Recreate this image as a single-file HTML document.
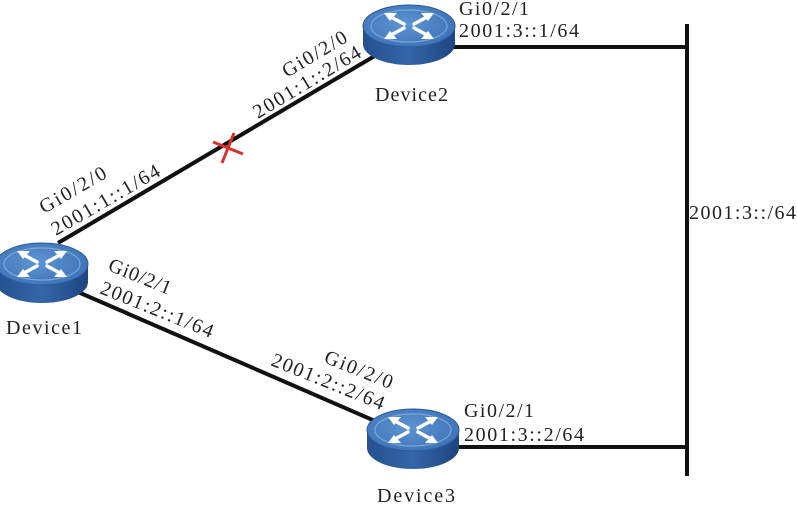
<!DOCTYPE html>
<html><head><meta charset="utf-8"><style>
html,body{margin:0;padding:0;background:#fff;}
svg{display:block;}
text{font-family:"Liberation Serif",serif;font-size:20px;fill:#222;}
</style></head><body>
<svg width="797" height="507" viewBox="0 0 797 507" xmlns="http://www.w3.org/2000/svg">
<defs>
<linearGradient id="side" x1="0" y1="0" x2="1" y2="0">
<stop offset="0" stop-color="#24508e"/><stop offset="0.5" stop-color="#3466a8"/><stop offset="1" stop-color="#1d4580"/>
</linearGradient>
<radialGradient id="top" cx="0.45" cy="0.45" r="0.65">
<stop offset="0" stop-color="#5f95d2"/><stop offset="1" stop-color="#3a70b4"/>
</radialGradient>
<g id="rt">
<path d="M-46,0 L-46,18 A46,21 0 0 0 46,18 L46,0 Z" fill="url(#side)"/>
<ellipse cx="0" cy="0" rx="46" ry="21" fill="url(#top)" stroke="#2a5a9a" stroke-width="1"/>
<ellipse cx="0" cy="0" rx="38" ry="16" fill="none" stroke="#8db8e6" stroke-width="1.2" opacity="0.7"/>
<g stroke="#fff" stroke-width="3.5" fill="none" stroke-linecap="round">
<line x1="-5" y1="-2" x2="-18" y2="-9"/><line x1="5" y1="-2" x2="18" y2="-9"/>
<line x1="-5" y1="2" x2="-18" y2="9"/><line x1="5" y1="2" x2="18" y2="9"/>
</g>
<g fill="#fff">
<polygon points="-25,-13 -12,-13 -19,-5"/><polygon points="25,-13 12,-13 19,-5"/>
<polygon points="-25,13 -12,13 -19,5"/><polygon points="25,13 12,13 19,5"/>
</g>
</g>
</defs>
<g stroke="#111" stroke-width="4" fill="none">
<line x1="58" y1="243" x2="378" y2="54"/>
<line x1="78" y1="292" x2="382" y2="424"/>
<line x1="450" y1="47" x2="687" y2="47"/>
<line x1="455" y1="447" x2="687" y2="447"/>
<line x1="687" y1="24" x2="687" y2="476"/>
</g>
<g stroke="#d8302a" stroke-width="3">
<line x1="213" y1="142" x2="243" y2="154"/>
<line x1="222" y1="163" x2="234" y2="133"/>
</g>
<use href="#rt" x="409" y="26"/>
<use href="#rt" x="42" y="264"/>
<use href="#rt" x="413" y="430"/>
<text x="375" y="101" textLength="73" lengthAdjust="spacing">Device2</text>
<text x="6" y="334" textLength="76" lengthAdjust="spacing">Device1</text>
<text x="377" y="502" textLength="78" lengthAdjust="spacing">Device3</text>
<text x="459" y="15" textLength="70" lengthAdjust="spacing">Gi0/2/1</text>
<text x="459" y="37" textLength="120" lengthAdjust="spacing">2001:3::1/64</text>
<text x="464" y="417" textLength="70" lengthAdjust="spacing">Gi0/2/1</text>
<text x="464" y="441" textLength="120" lengthAdjust="spacing">2001:3::2/64</text>
<text x="689" y="219" textLength="107" lengthAdjust="spacing">2001:3::/64</text>
<text transform="translate(44,214) rotate(-30)" textLength="74" lengthAdjust="spacing">Gi0/2/0</text>
<text transform="translate(56,236) rotate(-30)" textLength="122" lengthAdjust="spacing">2001:1::1/64</text>
<text transform="translate(287,78) rotate(-31)" textLength="72" lengthAdjust="spacing">Gi0/2/0</text>
<text transform="translate(258,119) rotate(-31)" textLength="122" lengthAdjust="spacing">2001:1::2/64</text>
<text transform="translate(107,270) rotate(22)" textLength="66" lengthAdjust="spacing">Gi0/2/1</text>
<text transform="translate(99,293) rotate(22)" textLength="120" lengthAdjust="spacing">2001:2::1/64</text>
<text transform="translate(323,362) rotate(22)" textLength="72" lengthAdjust="spacing">Gi0/2/0</text>
<text transform="translate(270,365) rotate(22)" textLength="120" lengthAdjust="spacing">2001:2::2/64</text>
</svg>
</body></html>
